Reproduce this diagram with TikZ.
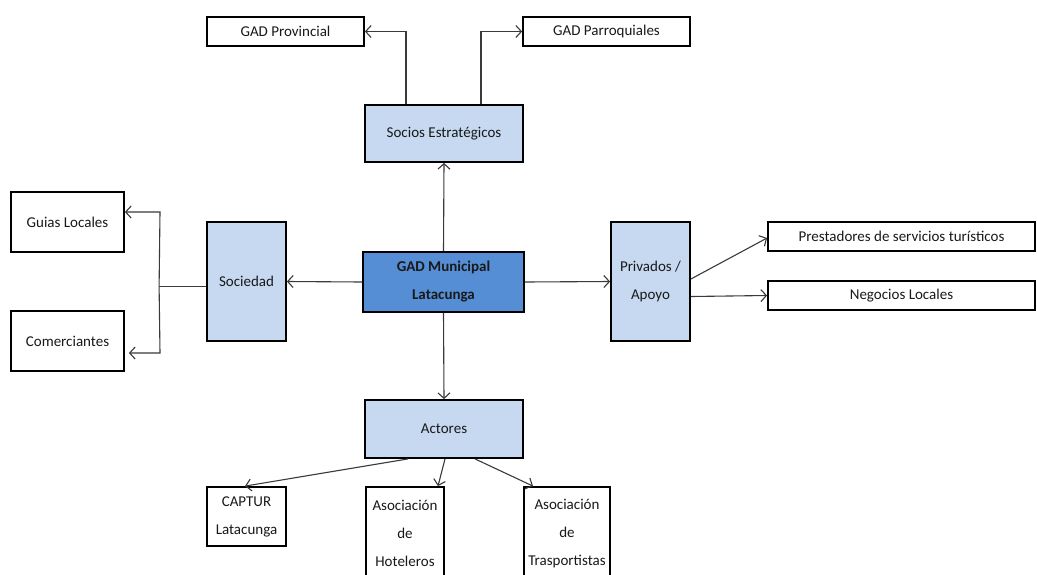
\documentclass[tikz,border=0pt]{standalone}
\usepackage{fontspec}
\setmainfont{Carlito}
\usetikzlibrary{arrows.meta}
\definecolor{lblue}{HTML}{C6D9F1}
\definecolor{mblue}{HTML}{558ED5}
\definecolor{lnc}{HTML}{3A3A3A}
\begin{document}
\begin{tikzpicture}[x=1pt,y=-1pt,
  box/.style={draw, line width=1.8pt, align=center, inner sep=0pt, text=black!90,
    font=\fontsize{15}{28}\selectfont},
  lbox/.style={box, fill=lblue},
  conn/.style={draw=lnc, line width=1.1pt, -{Straight Barb[length=5.5pt,width=12pt]}},
  plain/.style={draw=lnc, line width=1.1pt}]
\useasboundingbox (0,0) rectangle (1037,574);
\fill[white] (0,0) rectangle (1037,574);

\node[box, minimum width=157pt, minimum height=29pt] (prov) at (285.5,31.5) {GAD Provincial};
\node[box, minimum width=167pt, minimum height=29pt] (parr) at (606.5,31.5) {GAD Parroquiales};
\node[lbox, minimum width=158pt, minimum height=57pt] (socios) at (444,133.5) {Socios Estratégicos};
\node[box, minimum width=113pt, minimum height=60pt] (guias) at (67.5,222) {Guias Locales};
\node[box, minimum width=113pt, minimum height=60pt] (comer) at (67.5,341) {Comerciantes};
\node[lbox, minimum width=79pt, minimum height=119pt] (soc) at (246.5,281.5) {Sociedad};
\node[box, fill=mblue, minimum width=161pt, minimum height=60pt, font=\fontsize{15}{28}\selectfont\bfseries] (gad) at (443.5,282) {GAD Municipal\\Latacunga};
\node[lbox, minimum width=79pt, minimum height=119pt] (priv) at (650.5,281.5) {Privados /\\Apoyo};
\node[box, minimum width=267pt, minimum height=29pt] (prest) at (901.5,236.5) {Prestadores de servicios turísticos};
\node[box, minimum width=267pt, minimum height=29pt] (neg) at (901.5,295.5) {Negocios Locales};
\node[lbox, minimum width=158pt, minimum height=58pt] (act) at (444,429) {Actores};
\node[box, minimum width=79pt, minimum height=59pt] (capt) at (246.5,516.5) {CAPTUR\\Latacunga};
\node[box, minimum width=78pt, minimum height=93pt] (hot) at (405,533.5) {Asociación\\de\\Hoteleros};
\node[box, minimum width=86pt, minimum height=93pt] (tras) at (567,533.5) {Asociación\\de\\Trasportistas};

\draw[conn] (gad.north) -- (socios.south);
\draw[conn] ([xshift=-38pt]socios.north) |- (prov.east);
\draw[conn] ([xshift=37pt]socios.north) |- (parr.west);

\draw[conn] (gad.west) -- (soc.east);
\draw[plain, line width=1.6pt] ([yshift=-5pt]soc.west) -- ++(-47,0) coordinate (j);
\draw[conn] (j) -- (160,212) -- ([yshift=10pt]guias.east);
\draw[conn] (j) -- (160,353) -- ([yshift=-12pt, xshift=4pt]comer.east);

\draw[conn] (gad.east) -- (priv.west);
\draw[conn] ([yshift=2.5pt]priv.east) -- ([yshift=-1.5pt]prest.west);
\draw[conn] ([yshift=-15pt]priv.east) -- (neg.west);

\draw[conn] (gad.south) -- (act.north);
\draw[conn] ([xshift=-36pt]act.south) -- ([xshift=-1.5pt]capt.north);
\draw[conn] ([xshift=1pt]act.south) -- ([xshift=33pt]hot.north);
\draw[conn] ([xshift=31pt]act.south) -- ([xshift=-34pt]tras.north);
\end{tikzpicture}
\end{document}
